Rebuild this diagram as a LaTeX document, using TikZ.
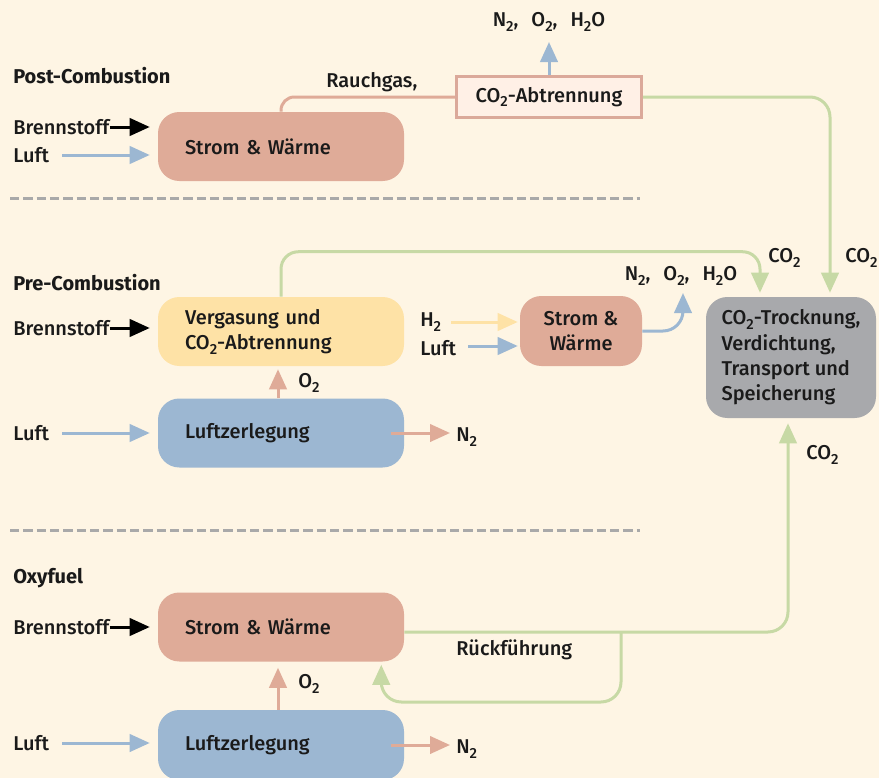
\documentclass[tikz,border=0pt]{standalone}
\usepackage{fontspec}
\setmainfont{Fira Sans}[UprightFont=* Medium, BoldFont=* Bold]
\usetikzlibrary{arrows.meta}
\definecolor{bgc}{HTML}{FEF5E4}
\definecolor{salmonc}{HTML}{DFAB98}
\definecolor{abfill}{HTML}{FFF0E6}
\definecolor{abdraw}{HTML}{DBA99A}
\definecolor{yellowc}{HTML}{FEE2A6}
\definecolor{bluec}{HTML}{9CB7D2}
\definecolor{grayc}{HTML}{A8A9AC}
\definecolor{greenc}{HTML}{C7D9A5}
\definecolor{sepc}{HTML}{A9A9A9}
\definecolor{txt}{HTML}{1A1A1A}
\newcommand\lsub[1]{\raisebox{-0.45ex}{\fontsize{11pt}{11pt}\selectfont #1}}
\begin{document}
\begin{tikzpicture}[x=0.75pt,y=-0.75pt,
  font=\fontsize{15pt}{19pt}\selectfont, text=txt,
  box/.style={rounded corners=16pt, inner sep=0pt, minimum height=51.75pt},
  bigbox/.style={box, minimum width=184.5pt, text width=144pt, align=left, inner xsep=20.25pt},
  lbl/.style={inner sep=0pt, anchor=west},
  head/.style={lbl, font=\fontsize{15pt}{19pt}\selectfont\bfseries},
  flow/.style={line width=2.25pt, -{Triangle[length=15pt,width=13pt]}},
  pipe/.style={line width=2.25pt},
  sep/.style={sepc, line width=2.25pt, dash pattern=on 7pt off 3pt}
]
\fill[bgc] (0,0) rectangle (879,778);
\useasboundingbox (0,0) rectangle (879,778);

% separators
\draw[sep] (10,198) -- (640,198);
\draw[sep] (10,530) -- (640,530);

% ---------------- Post-Combustion
\node[head] (hpost) at (13,76) {Post-Combustion};
\node[bigbox, fill=salmonc] (post) at (281,146.5) {Strom \& Wärme};
\node[lbl] (bs1) at (13,127) {Brennstoff};
\node[lbl] (lu1) at (13,155) {Luft};
\draw[flow, black, shorten >=6pt] (bs1.east) -- (bs1.east -| post.west);
\draw[flow, bluec, shorten <=9.75pt, shorten >=6pt] (lu1.east) -- (lu1.east -| post.west);

\node[draw=abdraw, line width=2.25pt, fill=abfill, minimum width=138.75pt, minimum height=30.75pt, inner sep=0pt] (abtr) at (549,97) {CO\lsub{2}-Abtrennung};
\node[lbl] (rauch) at (326,82) {Rauchgas,};
\draw[pipe, salmonc, rounded corners=10pt] (post.north) -- (post.north |- abtr.west) -- (abtr.west);

\node (out1) at (549,22) {N\lsub{2},\hspace{0.4em} O\lsub{2},\hspace{0.4em} H\lsub{2}O};
\draw[flow, bluec] (abtr.north) -- ([yshift=-15pt]out1.center);

% ---------------- CO2 sink
\node[box, fill=grayc, minimum width=127.5pt, minimum height=90.75pt, align=left] (dry) at (791,357.5) {CO\lsub{2}-Trocknung,\\Verdichtung,\\Transport und\\Speicherung};
\draw[flow, greenc, rounded corners=15pt] (abtr.east) -| ([xshift=29.25pt, yshift=3pt]dry.north);
\node[lbl] (c2) at (845,258) {CO\lsub{2}};

% ---------------- Pre-Combustion
\node[head] (hpre) at (13,283) {Pre-Combustion};
\node[bigbox, fill=yellowc] (verg) at (281,331.5) {Vergasung und\\CO\lsub{2}-Abtrennung};
\node[lbl] (bs2) at (13,328) {Brennstoff};
\draw[flow, black, shorten >=6pt] (bs2.east) -- (bs2.east -| verg.west);
\draw[flow, greenc, rounded corners=13pt] (verg.north) -- ++(0,-45) -| ([xshift=-23.25pt, yshift=3pt]dry.north);
\node[lbl] (c1) at (768,258) {CO\lsub{2}};

\node[box, fill=salmonc, minimum width=91.5pt, minimum height=52.5pt, align=center] (sw) at (581,331) {Strom \&\\Wärme};
\node[lbl] (h2) at (420,322) {H\lsub{2}};
\node[lbl] (lu2) at (420,348) {Luft};
\draw[flow, yellowc, shorten <=7.5pt, shorten >=1.5pt] (h2.east) -- (h2.east -| sw.west);
\draw[flow, bluec, shorten <=9pt, shorten >=1.5pt] ([yshift=1.5pt]lu2.east) -- ([yshift=1.5pt]lu2.east -| sw.west);
\node (out2) at (681,276) {N\lsub{2},\hspace{0.4em} O\lsub{2},\hspace{0.4em} H\lsub{2}O};
\draw[flow, bluec, rounded corners=15pt] (sw.east) -| ([xshift=1.5pt, yshift=-12.75pt]out2.center);

\node[bigbox, fill=bluec] (lz1) at (281,433) {Luftzerlegung};
\node[lbl] (lu3) at (13,433) {Luft};
\draw[flow, bluec, shorten <=9.75pt, shorten >=6pt] (lu3.east) -- (lu3.east -| lz1.west);
\draw[flow, salmonc, shorten >=2.25pt] ([xshift=-2.25pt]lz1.north) -- ([xshift=-2.25pt]verg.south);
\node[lbl] (o2a) at (298,383) {O\lsub{2}};
\node[lbl] (n2a) at (456,437) {N\lsub{2}};
\draw[flow, salmonc, shorten >=4.5pt] ([xshift=-10pt]lz1.east) -- (lz1.east -| n2a.west);

% ---------------- Oxyfuel
\node[head] (hoxy) at (13,578) {Oxyfuel};
\node[bigbox, fill=salmonc] (oxs) at (281,627) {Strom \& Wärme};
\node[lbl] (bs3) at (13,627) {Brennstoff};
\draw[flow, black, shorten >=6pt] (bs3.east) -- (bs3.east -| oxs.west);
\draw[flow, greenc, rounded corners=15pt] ([yshift=-3.75pt]oxs.east) -| ([xshift=-2.25pt, yshift=-3.75pt]dry.south);
\node[lbl] (c3) at (806,455) {CO\lsub{2}};
\coordinate (split) at (621,632);
\draw[flow, greenc, rounded corners=15pt] (split) -- ++(0,70) -| ([xshift=-17.25pt, yshift=-2.25pt]oxs.south east);
\node[lbl] (rf) at (456,650) {Rückführung};

\node[bigbox, fill=bluec, minimum height=52.5pt] (lz2) at (281,745) {Luftzerlegung};
\node[lbl] (lu4) at (13,743) {Luft};
\draw[flow, bluec, shorten <=9.75pt, shorten >=6pt] (lu4.east) -- (lu4.east -| lz2.west);
\draw[flow, salmonc, shorten >=4.5pt] ([xshift=-2.25pt]lz2.north) -- ([xshift=-2.25pt]oxs.south);
\node[lbl] (o2b) at (298,684) {O\lsub{2}};
\node[lbl] (n2b) at (456,749) {N\lsub{2}};
\draw[flow, salmonc, shorten >=4.5pt] ([xshift=-10pt]lz2.east) -- (lz2.east -| n2b.west);
\end{tikzpicture}
\end{document}
